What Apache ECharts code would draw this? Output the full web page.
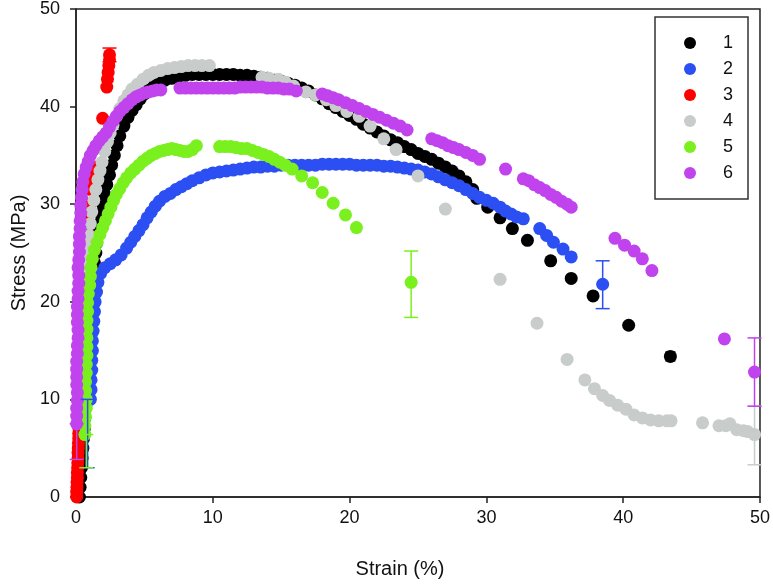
<!DOCTYPE html>
<html><head><meta charset="utf-8">
<script src="https://cdn.jsdelivr.net/npm/echarts@6/dist/echarts.min.js"></script>
<style>html,body{margin:0;padding:0;background:#fff}#c{width:773px;height:584px}</style>
</head><body><div id="c"></div>
<script>
// ---- Data (strain %, stress MPa) ----
const seriesNames = ['1','2','3','4','5','6'];
const colors = ['#000000','#2B4FF2','#FF0000','#C8CCCA','#7AF01E','#C043EE'];
const xTicks = [0,10,20,30,40,50];
const yTicks = [0,10,20,30,40,50];

const s1 = [[0.25,0],[0.3,1],[0.35,2],[0.4,3],[0.45,4],[0.5,5],[0.55,6],[0.6,7],[0.62,8],[0.65,9],[0.7,10],[0.72,11],[0.75,12],[0.8,13],[0.82,14],[0.85,15],[0.9,16],[0.95,17],[1.0,18],[1.05,19],[1.1,20],[1.15,21],[1.2,22],[1.3,23],[1.35,24],[1.45,25],[1.5,26],[1.6,27],[1.7,28],[1.8,29],[1.95,30],[2.1,31],[2.25,32],[2.45,33],[2.6,34],[2.8,35],[3.0,36],[3.2,37],[3.5,38],[3.8,38.9],[4.1,39.6],[4.4,40.2],[4.7,40.8],[5.0,41.3],[5.3,41.7],[5.7,42.1],[6.1,42.4],[6.5,42.7],[7.0,42.9],[7.5,43.1],[8.0,43.2],[8.5,43.3],[9.0,43.3],[9.5,43.3],[10.0,43.3],[10.5,43.3],[11.0,43.3],[11.5,43.3],[12.0,43.2],[12.5,43.2],[13.0,43.1],[13.5,43.0],[14.0,42.9],[14.5,42.7],[15.0,42.6],[15.5,42.4],[16.0,42.2],[16.5,41.9],[17.0,41.6],[17.5,41.2],[18.0,40.8],[18.5,40.3],[19.0,39.9],[19.5,39.5],[20.0,39.1],[20.5,38.7],[21.0,38.2],[21.5,37.8],[22.0,37.4],[22.5,37.0],[23.0,36.6],[23.5,36.3],[24.0,35.9],[24.5,35.6],[25.0,35.2],[25.5,34.9],[26.0,34.6],[26.5,34.2],[27.0,33.8],[27.5,33.4],[28.0,32.9],[28.5,32.3],[29.0,31.5],[29.3,30.6],[30.1,29.7],[31.0,28.6],[31.9,27.5],[33.0,26.3],[34.7,24.2],[36.2,22.4],[37.8,20.6],[40.4,17.6],[43.45,14.4]];

const s2 = [[1.05,10],[1.1,11],[1.1,12],[1.15,13],[1.15,14],[1.2,15],[1.2,16],[1.25,17],[1.3,18],[1.35,19],[1.4,20],[1.5,21],[1.6,22],[1.8,22.9],[2.1,23.5],[2.5,23.9],[2.9,24.3],[3.3,24.8],[3.7,25.5],[4.0,26.1],[4.3,26.7],[4.6,27.3],[4.9,27.9],[5.2,28.6],[5.5,29.2],[5.8,29.8],[6.1,30.3],[6.5,30.8],[6.9,31.1],[7.3,31.5],[7.7,31.8],[8.1,32.1],[8.5,32.4],[9.0,32.7],[9.5,33.0],[10.0,33.2],[10.5,33.3],[11.0,33.4],[11.5,33.5],[12.0,33.6],[12.5,33.7],[13.0,33.8],[13.5,33.8],[14.0,33.9],[14.5,33.9],[15.0,34.0],[15.5,34.0],[16.0,34.0],[16.5,34.0],[17.0,34.0],[17.5,34.0],[18.0,34.1],[18.5,34.1],[19.0,34.1],[19.5,34.1],[20.0,34.1],[20.5,34.0],[21.0,34.0],[21.5,34.0],[22.0,34.0],[22.5,33.9],[23.0,33.9],[23.5,33.8],[24.0,33.7],[24.5,33.6],[25.0,33.5],[25.5,33.3],[26.0,33.1],[26.5,32.8],[27.0,32.5],[27.5,32.2],[28.0,31.9],[28.5,31.5],[29.0,31.1],[29.5,30.7],[30.0,30.4],[30.5,30.1],[31.0,29.7],[31.4,29.3],[31.8,29.0],[32.2,28.7],[32.7,28.5],[33.9,27.5],[34.4,26.8],[34.9,26.1],[35.6,25.4],[36.2,24.6],[38.5,21.8]];

const s3 = [[0.05,0],[0.05,0.5],[0.07,1],[0.08,1.5],[0.1,2],[0.1,2.5],[0.12,3],[0.13,3.5],[0.15,4],[0.15,4.5],[0.17,5],[0.18,5.5],[0.2,6],[0.2,6.5],[0.22,7],[0.23,7.5],[0.25,8],[0.25,8.5],[0.27,9],[0.28,9.5],[0.3,10],[0.3,10.5],[0.32,11],[0.33,11.5],[0.35,12],[0.35,12.5],[0.37,13],[0.38,13.5],[0.4,14],[0.45,15],[0.5,16],[0.52,17],[0.55,18],[0.6,19],[0.65,20],[0.67,21],[0.7,22],[0.75,23],[0.8,24],[0.82,25],[0.85,26],[0.87,27],[0.9,28],[0.95,29],[1.0,30],[1.1,31.5],[1.2,32.6],[1.35,33.3],[1.5,33.8],[1.95,38.8],[2.25,42.0],[2.3,42.8],[2.35,43.5],[2.4,44.2],[2.45,44.8],[2.45,45.3]];

const s4 = [[0.15,12],[0.15,13.3],[0.2,14.6],[0.25,16],[0.3,17.2],[0.4,18.4],[0.5,19.6],[0.6,20.8],[0.65,22],[0.7,23.2],[0.8,24.4],[0.85,25.6],[0.95,26.8],[1.05,28],[1.15,29.2],[1.3,30.4],[1.45,31.5],[1.6,32.5],[1.75,33.4],[1.9,34.3],[2.1,35.4],[2.3,36.4],[2.5,37.3],[2.7,38.1],[2.95,39.0],[3.2,39.8],[3.5,40.6],[3.8,41.2],[4.1,41.8],[4.5,42.3],[4.9,42.8],[5.3,43.2],[5.7,43.5],[6.2,43.7],[6.7,43.9],[7.2,44.0],[7.7,44.1],[8.2,44.2],[8.7,44.2],[9.2,44.2],[9.75,44.2],[13.6,43.0],[14.1,42.9],[14.8,42.8],[15.3,42.5],[15.9,42.1],[16.8,41.5],[17.5,41.2],[18.3,40.7],[19.0,40.1],[19.8,39.5],[20.7,39.0],[21.5,38.0],[22.5,36.7],[23.4,35.6],[25.0,32.9],[27.0,29.5],[31.0,22.3],[33.7,17.8],[35.9,14.1],[37.2,12.0],[37.9,11.1],[38.5,10.4],[39.0,9.9],[39.6,9.4],[40.2,9.0],[40.8,8.4],[41.4,8.1],[42.0,7.9],[42.6,7.8],[43.2,7.8],[43.5,7.8],[45.8,7.6],[47.0,7.3],[47.5,7.3],[47.8,7.5],[48.3,6.9],[48.8,6.8],[49.1,6.7],[49.6,6.4]];

const s5 = [[0.65,6.4],[0.65,7.3],[0.7,8.2],[0.75,9.1],[0.75,10],[0.7,10.9],[0.7,11.8],[0.75,12.7],[0.75,13.6],[0.8,14.5],[0.8,15.4],[0.8,16.3],[0.8,17.2],[0.8,18.1],[0.85,19],[0.85,19.9],[0.9,20.8],[1.0,21.7],[1.05,22.6],[1.1,23.5],[1.2,24.4],[1.35,25.3],[1.55,26.1],[1.75,26.9],[1.95,27.6],[2.15,28.3],[2.35,29],[2.55,29.7],[2.75,30.4],[2.95,31.0],[3.2,31.6],[3.45,32.2],[3.7,32.7],[4.0,33.2],[4.3,33.6],[4.6,34.0],[4.9,34.4],[5.2,34.7],[5.5,35.0],[5.8,35.2],[6.1,35.4],[6.4,35.5],[6.7,35.6],[7.0,35.7],[7.3,35.6],[7.6,35.5],[7.9,35.4],[8.2,35.4],[8.5,35.6],[8.8,36.0],[10.5,35.9],[10.9,35.9],[11.3,35.9],[11.7,35.8],[12.1,35.7],[12.5,35.7],[12.9,35.5],[13.3,35.3],[13.7,35.1],[14.1,34.9],[14.5,34.6],[14.9,34.3],[15.3,34.0],[15.8,33.6],[16.5,32.9],[17.3,32.2],[18.0,31.2],[18.8,30.1],[19.7,28.9],[20.5,27.6],[24.5,22.0]];

const s6 = [[0.05,7.5],[0.05,8.3],[0.05,9.1],[0.1,9.9],[0.1,10.7],[0.05,11.5],[0.05,12.3],[0.05,13.1],[0.05,13.9],[0.1,14.7],[0.1,15.5],[0.15,16.3],[0.15,17.1],[0.1,17.9],[0.1,18.7],[0.1,19.5],[0.15,20.3],[0.15,21.1],[0.2,21.9],[0.2,22.7],[0.15,23.5],[0.2,24.3],[0.25,25.1],[0.25,25.9],[0.25,26.7],[0.3,27.5],[0.3,28.3],[0.35,29.1],[0.35,29.9],[0.4,30.7],[0.45,31.5],[0.5,32.3],[0.6,33.1],[0.75,33.8],[0.9,34.4],[1.05,35.0],[1.25,35.5],[1.45,36.0],[1.7,36.5],[1.95,36.9],[2.2,37.3],[2.45,37.9],[2.7,38.5],[2.95,39.0],[3.2,39.5],[3.5,39.9],[3.8,40.3],[4.1,40.7],[4.4,41.0],[4.7,41.2],[5.0,41.4],[5.3,41.5],[5.6,41.6],[5.9,41.7],[6.2,41.7],[7.6,41.9],[8.0,41.9],[8.4,41.9],[8.8,41.9],[9.2,41.9],[9.6,41.9],[10.0,41.9],[10.4,41.9],[10.8,41.9],[11.2,41.9],[11.6,41.9],[12.0,42.0],[12.4,42.0],[12.8,42.0],[13.2,42.0],[13.6,42.0],[14.0,41.9],[14.4,41.9],[14.8,41.9],[15.2,41.8],[15.6,41.8],[16.1,41.6],[18.0,41.3],[18.4,41.1],[18.8,40.9],[19.2,40.7],[19.7,40.4],[20.2,40.1],[20.7,39.8],[21.2,39.5],[21.7,39.2],[22.2,38.9],[22.7,38.6],[23.2,38.3],[23.7,38.0],[24.2,37.6],[26.0,36.7],[26.4,36.5],[26.8,36.3],[27.2,36.0],[27.6,35.8],[28.0,35.6],[28.5,35.3],[29.0,35.0],[29.5,34.6],[31.4,33.6],[32.7,32.6],[33.1,32.4],[33.5,32.0],[33.9,31.7],[34.3,31.4],[34.7,31.0],[35.1,30.7],[35.5,30.3],[35.9,30.0],[36.2,29.7],[39.4,26.5],[40.1,25.8],[40.8,25.2],[41.4,24.4],[42.1,23.2],[47.4,16.2],[49.6,12.8]];

// error bars: [x, low, high]
const err1 = [[43.45,13.95,14.85]];
const err2 = [[38.5,19.3,24.2],[0.85,3.0,10.0]];
const err3 = [[2.45,44.6,46.0]];
const err4 = [[49.6,3.3,9.3]];
const err5 = [[24.5,18.4,25.2],[0.75,3.0,6.4]];
const err6 = [[49.6,9.3,16.3],[0.05,3.85,7.5]];

const pointSets = [s1,s2,s3,s4,s5,s6];
const errSets = [err1,err2,err3,err4,err5,err6];

const chart = echarts.init(document.getElementById('c'), null, {renderer:'canvas'});
const FONT = '"Liberation Sans", Arial, sans-serif';

function errRender(color, capHalf){
  return function(params, api){
    const x = api.value(0), lo = api.value(1), hi = api.value(2);
    const a = api.coord([x, lo]), b = api.coord([x, hi]);
    const st = {stroke: color, lineWidth: 1.5};
    return {type:'group', children:[
      {type:'line', shape:{x1:a[0],y1:a[1],x2:b[0],y2:b[1]}, style:st},
      {type:'line', shape:{x1:a[0]-capHalf,y1:a[1],x2:a[0]+capHalf,y2:a[1]}, style:st},
      {type:'line', shape:{x1:b[0]-capHalf,y1:b[1],x2:b[0]+capHalf,y2:b[1]}, style:st}
    ]};
  };
}

const series = [];
pointSets.forEach((d,i)=>{
  series.push({
    name: seriesNames[i], type:'scatter', data:d, symbol:'circle', symbolSize:13,
    itemStyle:{color:colors[i], opacity:1}, z:2, clip:false, animation:false,
    emphasis:{disabled:true}
  });
});
errSets.forEach((d,i)=>{
  series.push({
    name: 'err'+seriesNames[i], type:'custom', data:d, z:3, animation:false, clip:false,
    encode:{x:0, y:[1,2]},
    renderItem: errRender(colors[i], i===0 ? 5 : 7)
  });
});

chart.setOption({
  backgroundColor:'#fff',
  animation:false,
  textStyle:{fontFamily:FONT},
  grid:{left:76, right:10, top:6, bottom:84, show:true, borderColor:'#222', borderWidth:1.5, backgroundColor:'transparent'},
  legend:{
    data: seriesNames, orient:'vertical', left:655, top:17,
    icon:'circle', itemWidth:12, itemHeight:12, itemGap:8,
    padding:[17,15,17,29],
    backgroundColor:'#fff', borderColor:'#333', borderWidth:1.5, borderRadius:0,
    textStyle:{fontSize:18, color:'#111', fontFamily:FONT, padding:[0,0,0,22]},
    selectedMode:false
  },
  xAxis:{
    type:'value', min:0, max:50, interval:10,
    name:'Strain (%)', nameLocation:'middle', nameGap:62,
    nameTextStyle:{fontSize:20, color:'#111', fontFamily:FONT, padding:[0,36,0,0]},
    axisLine:{show:true, lineStyle:{color:'#222', width:1.5}},
    axisTick:{show:true, inside:false, length:6, lineStyle:{color:'#222', width:1.5}},
    axisLabel:{fontSize:18, color:'#111', margin:12, fontFamily:FONT,
      formatter:(v)=> xTicks.includes(v) ? String(v) : ''},
    splitLine:{show:false}
  },
  yAxis:{
    type:'value', min:0, max:50, interval:10,
    name:'Stress (MPa)', nameLocation:'middle', nameGap:46,
    nameTextStyle:{fontSize:20, color:'#111', fontFamily:FONT},
    axisLine:{show:true, lineStyle:{color:'#222', width:1.5}},
    axisTick:{show:true, inside:false, length:6, lineStyle:{color:'#222', width:1.5}},
    axisLabel:{fontSize:18, color:'#111', margin:16, fontFamily:FONT,
      formatter:(v)=> yTicks.includes(v) ? String(v) : ''},
    splitLine:{show:false}
  },
  series: series
});
</script>
</body></html>
